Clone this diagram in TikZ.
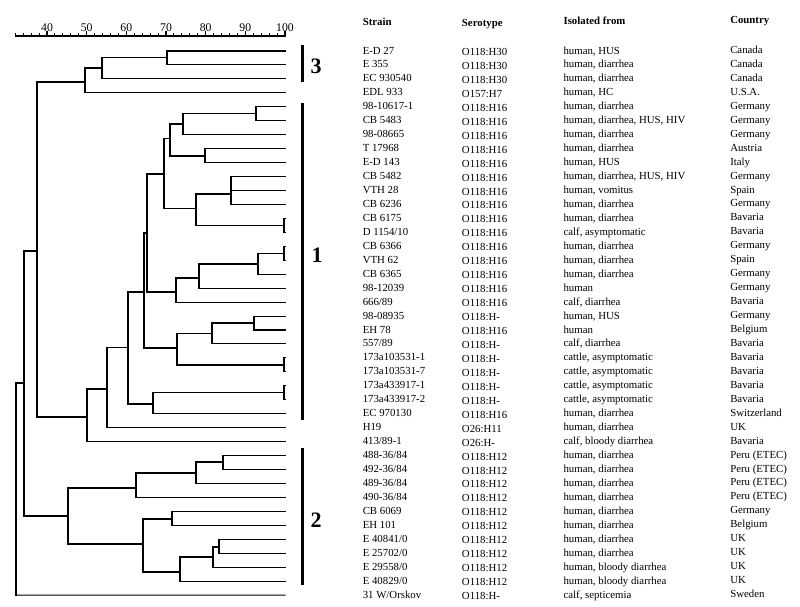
\documentclass[tikz,border=0pt]{standalone}
\usepackage{fontspec}
\setmainfont{Liberation Serif}
\newcommand\strainrow[5]{%
  \coordinate (l#1) at (285,{51+13.95*(#1-1)});
  \node[txt] (st#1) at (362.5,{51+13.95*(#1-1)+3}) {#2};
  \node[txt] (se#1) at (461.7,{51+13.95*(#1-1)+4.5}) {#3};
  \node[txt] (is#1) at (563.3,{51+13.95*(#1-1)+3}) {#4};
  \node[txt] (co#1) at (730,{51+13.95*(#1-1)+2.5}) {#5};
}
\begin{document}
\begin{tikzpicture}[x=0.75pt,y=-0.75pt,
  br/.style={line width=0.8pt, line cap=rect},
  txt/.style={anchor=base west, inner sep=0pt, font=\fontsize{8.1}{9}\selectfont},
  hdr/.style={anchor=base west, inner sep=0pt, font=\fontsize{8.1}{9}\selectfont\bfseries},
  axl/.style={anchor=base, inner sep=0pt, font=\fontsize{8.8}{9}\selectfont},
  grp/.style={inner sep=0pt, font=\fontsize{16.5}{18}\selectfont\bfseries},
  bar/.style={line width=1.9pt}]
\useasboundingbox (0,0) rectangle (800,607);

% ---- axis ----
\coordinate (ax0) at (15.3,36);
\coordinate (ax1) at (285,36);
\draw[br] (ax0) -- (ax1);
\foreach \v in {32,34,...,100} \draw[br] ({47+(\v-40)*3.967},36) -- ++(0,-2);
\foreach \v in {40,50,...,100} {
  \draw[br] ({47+(\v-40)*3.967},36) -- ++(0,-4);
  \node[axl] (a\v) at ({47+(\v-40)*3.967},31) {\v};
}

% ---- headers ----
\node[hdr] (hStrain) at (362.5,25) {Strain};
\node[hdr] (hSero) at (461.7,26.5) {Serotype};
\node[hdr] (hIso) at (563.3,24.5) {Isolated from};
\node[hdr] (hCountry) at (730,23.5) {Country};

% ---- rows ----
\strainrow{1}{E-D 27}{O118:H30}{human, HUS}{Canada}
\strainrow{2}{E 355}{O118:H30}{human, diarrhea}{Canada}
\strainrow{3}{EC 930540}{O118:H30}{human, diarrhea}{Canada}
\strainrow{4}{EDL 933}{O157:H7}{human, HC}{U.S.A.}
\strainrow{5}{98-10617-1}{O118:H16}{human, diarrhea}{Germany}
\strainrow{6}{CB 5483}{O118:H16}{human, diarrhea, HUS, HIV}{Germany}
\strainrow{7}{98-08665}{O118:H16}{human, diarrhea}{Germany}
\strainrow{8}{T 17968}{O118:H16}{human, diarrhea}{Austria}
\strainrow{9}{E-D 143}{O118:H16}{human, HUS}{Italy}
\strainrow{10}{CB 5482}{O118:H16}{human, diarrhea, HUS, HIV}{Germany}
\strainrow{11}{VTH 28}{O118:H16}{human, vomitus}{Spain}
\strainrow{12}{CB 6236}{O118:H16}{human, diarrhea}{Germany}
\strainrow{13}{CB 6175}{O118:H16}{human, diarrhea}{Bavaria}
\strainrow{14}{D 1154/10}{O118:H16}{calf, asymptomatic}{Bavaria}
\strainrow{15}{CB 6366}{O118:H16}{human, diarrhea}{Germany}
\strainrow{16}{VTH 62}{O118:H16}{human, diarrhea}{Spain}
\strainrow{17}{CB 6365}{O118:H16}{human, diarrhea}{Germany}
\strainrow{18}{98-12039}{O118:H16}{human}{Germany}
\strainrow{19}{666/89}{O118:H16}{calf, diarrhea}{Bavaria}
\strainrow{20}{98-08935}{O118:H-}{human, HUS}{Germany}
\strainrow{21}{EH 78}{O118:H16}{human}{Belgium}
\strainrow{22}{557/89}{O118:H-}{calf, diarrhea}{Bavaria}
\strainrow{23}{173a103531-1}{O118:H-}{cattle, asymptomatic}{Bavaria}
\strainrow{24}{173a103531-7}{O118:H-}{cattle, asymptomatic}{Bavaria}
\strainrow{25}{173a433917-1}{O118:H-}{cattle, asymptomatic}{Bavaria}
\strainrow{26}{173a433917-2}{O118:H-}{cattle, asymptomatic}{Bavaria}
\strainrow{27}{EC 970130}{O118:H16}{human, diarrhea}{Switzerland}
\strainrow{28}{H19}{O26:H11}{human, diarrhea}{UK}
\strainrow{29}{413/89-1}{O26:H-}{calf, bloody diarrhea}{Bavaria}
\strainrow{30}{488-36/84}{O118:H12}{human, diarrhea}{Peru (ETEC)}
\strainrow{31}{492-36/84}{O118:H12}{human, diarrhea}{Peru (ETEC)}
\strainrow{32}{489-36/84}{O118:H12}{human, diarrhea}{Peru (ETEC)}
\strainrow{33}{490-36/84}{O118:H12}{human, diarrhea}{Peru (ETEC)}
\strainrow{34}{CB 6069}{O118:H12}{human, diarrhea}{Germany}
\strainrow{35}{EH 101}{O118:H12}{human, diarrhea}{Belgium}
\strainrow{36}{E 40841/0}{O118:H12}{human, diarrhea}{UK}
\strainrow{37}{E 25702/0}{O118:H12}{human, diarrhea}{UK}
\strainrow{38}{E 29558/0}{O118:H12}{human, bloody diarrhea}{UK}
\strainrow{39}{E 40829/0}{O118:H12}{human, bloody diarrhea}{UK}
\strainrow{40}{31 W/Orskov}{O118:H-}{calf, septicemia}{Sweden}

% ---- internal nodes of the dendrogram ----
\coordinate (n12) at (167,57.5);
\coordinate (n123) at (102,68);
\coordinate (n1234) at (85,82);
\coordinate (n56) at (256,113.5);
\coordinate (n567) at (183,124);
\coordinate (n89) at (205,156);
\coordinate (nA) at (170,138.5);
\coordinate (nB1) at (231,194);
\coordinate (n1314) at (284,225.4);
\coordinate (nB) at (196,208.5);
\coordinate (nAB) at (164,174);
\coordinate (n1516) at (284,253.3);
\coordinate (nC1) at (258,264);
\coordinate (nC2) at (199,278);
\coordinate (nC) at (176,292);
\coordinate (nP) at (147,233);
\coordinate (n2021) at (254,323);
\coordinate (nD1) at (212,333.5);
\coordinate (n2324) at (284,365);
\coordinate (nD) at (177,348);
\coordinate (nQ) at (144,292);
\coordinate (n2526) at (284,392.7);
\coordinate (nE) at (153,404);
\coordinate (nR) at (128,347.7);
\coordinate (nS) at (107,389);
\coordinate (nT) at (87,417);
\coordinate (nU) at (37,251);
\coordinate (n3031) at (223,462);
\coordinate (n2a) at (196,473);
\coordinate (n2b) at (136,488);
\coordinate (n3435) at (172,519);
\coordinate (n3637) at (219,547);
\coordinate (n2d) at (213,557);
\coordinate (n2e) at (180,572);
\coordinate (n2c) at (143,544);
\coordinate (nG2) at (68,516);
\coordinate (nV) at (24,383);
\coordinate (nW) at (16,595.05);

% ---- branches ----
\draw[br] (l1) -| (n12);  \draw[br] (l2) -| (n12);
\draw[br] (n12) -| (n123); \draw[br] (l3) -| (n123);
\draw[br] (n123) -| (n1234); \draw[br] (l4) -| (n1234);
\draw[br] (l5) -| (n56); \draw[br] (l6) -| (n56);
\draw[br] (n56) -| (n567); \draw[br] (l7) -| (n567);
\draw[br] (l8) -| (n89); \draw[br] (l9) -| (n89);
\draw[br] (n567) -| (nA); \draw[br] (n89) -| (nA);
\draw[br] (l10) -| (nB1); \draw[br] (l11) -| (nB1); \draw[br] (l12) -| (nB1);
\draw[br] (l13) -| (n1314); \draw[br] (l14) -| (n1314);
\draw[br] (nB1) -| (nB); \draw[br] (n1314) -| (nB);
\draw[br] (nA) -| (nAB); \draw[br] (nB) -| (nAB);
\draw[br] (l15) -| (n1516); \draw[br] (l16) -| (n1516);
\draw[br] (n1516) -| (nC1); \draw[br] (l17) -| (nC1);
\draw[br] (nC1) -| (nC2); \draw[br] (l18) -| (nC2);
\draw[br] (nC2) -| (nC); \draw[br] (l19) -| (nC);
\draw[br] (nAB) -| (nP); \draw[br] (nC) -| (nP);
\draw[br] (l20) -| (n2021); \draw[br] (l21) -| (n2021);
\draw[br] (n2021) -| (nD1); \draw[br] (l22) -| (nD1);
\draw[br] (l23) -| (n2324); \draw[br] (l24) -| (n2324);
\draw[br] (nD1) -| (nD); \draw[br] (n2324) -| (nD);
\draw[br] (nP) -| (nQ); \draw[br] (nD) -| (nQ);
\draw[br] (l25) -| (n2526); \draw[br] (l26) -| (n2526);
\draw[br] (n2526) -| (nE); \draw[br] (l27) -| (nE);
\draw[br] (nQ) -| (nR); \draw[br] (nE) -| (nR);
\draw[br] (nR) -| (nS); \draw[br] (l28) -| (nS);
\draw[br] (nS) -| (nT); \draw[br] (l29) -| (nT);
\draw[br] (n1234) -| (nU); \draw[br] (nT) -| (nU);
\draw[br] (l30) -| (n3031); \draw[br] (l31) -| (n3031);
\draw[br] (n3031) -| (n2a); \draw[br] (l32) -| (n2a);
\draw[br] (n2a) -| (n2b); \draw[br] (l33) -| (n2b);
\draw[br] (l34) -| (n3435); \draw[br] (l35) -| (n3435);
\draw[br] (l36) -| (n3637); \draw[br] (l37) -| (n3637);
\draw[br] (n3637) -| (n2d); \draw[br] (l38) -| (n2d);
\draw[br] (n2d) -| (n2e); \draw[br] (l39) -| (n2e);
\draw[br] (n3435) -| (n2c); \draw[br] (n2e) -| (n2c);
\draw[br] (n2b) -| (nG2); \draw[br] (n2c) -| (nG2);
\draw[br] (nU) -| (nV); \draw[br] (nG2) -| (nV);
\draw[br] (nV) -| (nW); \draw[br] (l40) -- (nW);

% ---- group bars ----
\coordinate (b3t) at (302.7,45);  \coordinate (b3b) at (302.7,81.5);
\coordinate (b1t) at (302.7,103); \coordinate (b1b) at (302.7,420);
\coordinate (b2t) at (302.7,448); \coordinate (b2b) at (302.7,585);
\draw[bar] (b3t) -- (b3b);
\draw[bar] (b1t) -- (b1b);
\draw[bar] (b2t) -- (b2b);
\node[grp] (g3) at (316,66) {3};
\node[grp] (g1) at (317,255) {1};
\node[grp] (g2) at (316,520) {2};
\end{tikzpicture}
\end{document}
